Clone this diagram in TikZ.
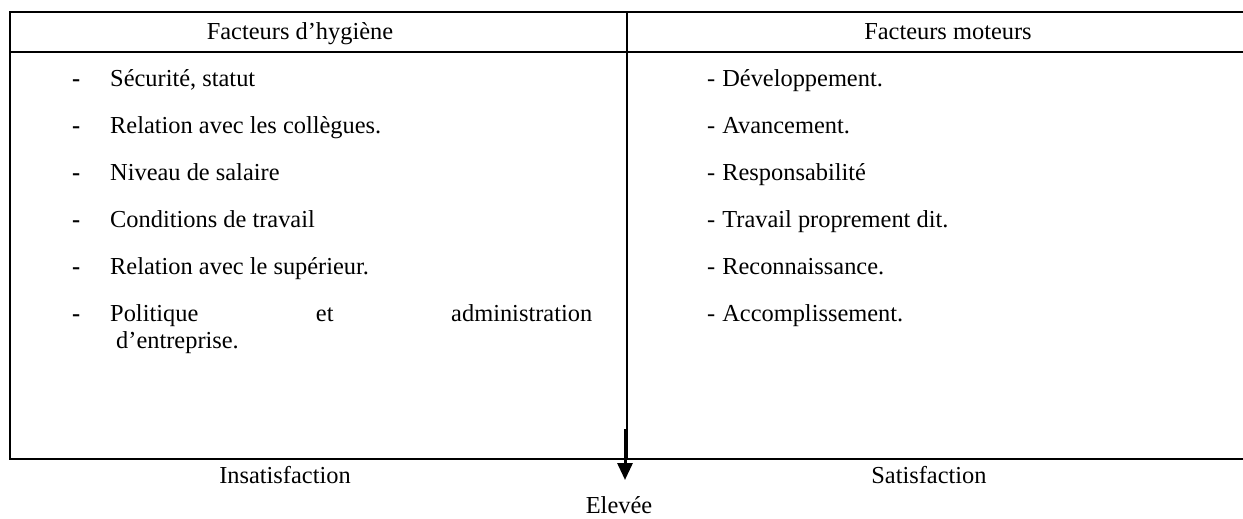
\documentclass[tikz,border=0pt]{standalone}
\usepackage{fontspec}
\setmainfont{Liberation Serif}
\usetikzlibrary{arrows.meta}
\begin{document}
\begin{tikzpicture}[x=1pt,y=-1pt,
  rule/.style={line width=1.6pt},
  txt/.style={inner sep=0pt,anchor=base west,font=\fontsize{24.4}{28}\selectfont},
  ctr/.style={txt,anchor=base}]
\useasboundingbox (0,0) rectangle (1243,519);

% table frame
\coordinate (tl) at (10,12);
\coordinate (tr) at (1243,12);
\coordinate (hl) at (10,52);
\coordinate (hr) at (1243,52);
\coordinate (bl) at (10,459);
\coordinate (br) at (1243,459);
\coordinate (dt) at (627,12);
\coordinate (db) at (627,459);
\draw[rule] (tr) -- (tl) -- (bl) -- (br);
\draw[rule] (hl) -- (hr);
\draw[line width=1.4pt] (dt) -- (db);

% headers
\node[ctr] (h1) at (300,40) {Facteurs d’hygiène};
\node[ctr] (h2) at (948,40) {Facteurs moteurs};

% hygiene factors
\foreach \y/\t [count=\i] in {86/{Sécurité, statut},
    133/{Relation avec les collègues.},
    180/{Niveau de salaire},
    227/{Conditions de travail},
    274/{Relation avec le supérieur.}}{
  \node[txt] (ld\i) at (72,\y) {\textbf{-}};
  \node[txt] (lt\i) at (110,\y) {\t};
}
\node[txt] (ld6) at (72,321) {\textbf{-}};
\node[txt] (lt6) at (110,321) {\makebox[482pt][l]{Politique\hfill et\hfill administration}};
\node[txt] (lt7) at (116,348) {d’entreprise.};

% motivating factors
\foreach \y/\t [count=\i] in {86/{Développement.},
    133/{Avancement.},
    180/{Responsabilité},
    227/{Travail proprement dit.},
    274/{Reconnaissance.},
    321/{Accomplissement.}}{
  \node[txt] (r\i) at (707,\y) {-\hspace{7pt}\t};
}

% bottom labels and arrow
\node[ctr] (ins) at (285,483) {Insatisfaction};
\node[ctr] (sat) at (929,483) {Satisfaction};
\node[ctr] (elv) at (619,513) {Elevée};
\coordinate (atop) at (625,429);
\coordinate (atip) at (625,480);
\draw[line width=3pt,-{Triangle[width=15pt,length=17pt]}] (atop) -- (atip);
\end{tikzpicture}
\end{document}
